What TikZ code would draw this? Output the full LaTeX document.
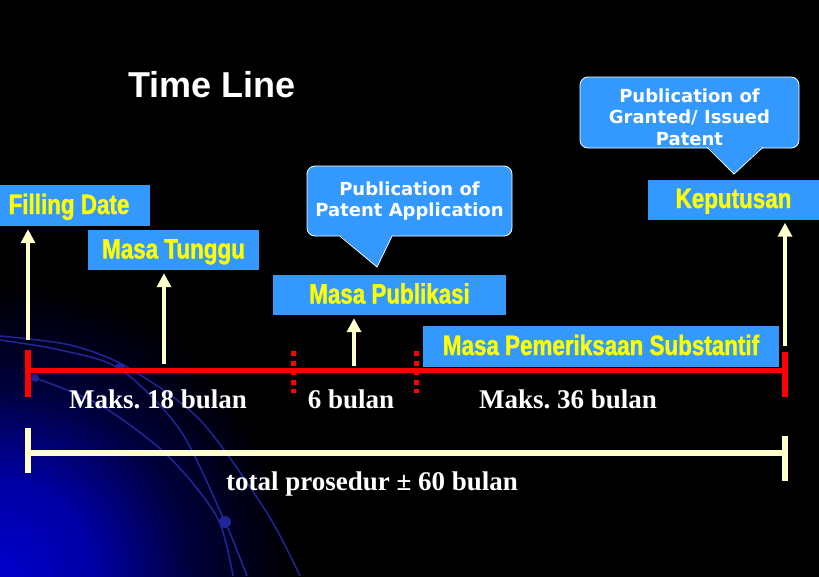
\documentclass[tikz,border=0pt]{standalone}
\usepackage{fontspec}
\setmainfont{Liberation Serif}
\newfontfamily\condfont[FakeStretch=0.8, BoldFeatures={FakeBold=1.2}]{Liberation Sans}
\newfontfamily\verdfont{DejaVu Sans}
\newfontfamily\arialfont{Liberation Sans}
\usetikzlibrary{arrows.meta}
\frenchspacing
\definecolor{boxblue}{RGB}{51,153,255}
\definecolor{txtyellow}{RGB}{255,255,0}
\definecolor{cream}{RGB}{255,255,204}
\definecolor{arcblue}{RGB}{32,38,150}
\definecolor{redline}{RGB}{255,0,0}
\pgfdeclareradialshading{cornerglow}{\pgfpointorigin}{%
  color(0bp)=(rgb,255:red,0;green,0;blue,205);
  color(5.5bp)=(rgb,255:red,0;green,0;blue,165);
  color(11bp)=(rgb,255:red,0;green,0;blue,60);
  color(17bp)=(rgb,255:red,0;green,0;blue,0);
  color(50bp)=(rgb,255:red,0;green,0;blue,0)}
\tikzset{
  bluebox/.style={fill=boxblue, inner sep=0pt, text=txtyellow,
    font=\condfont\bfseries\fontsize{28}{30}\selectfont,
    text height=21pt, text depth=4pt},
  callbox/.style={fill=boxblue, draw=white, line width=0.8pt, rounded corners=8pt,
    inner sep=0pt, text=white, align=center,
    font=\verdfont\bfseries\fontsize{18}{21.5}\selectfont},
  uparrow/.style={draw=cream, line width=4pt, -{Triangle[width=14pt,length=14pt]}, shorten >=3pt},
  redbar/.style={draw=redline, line width=5pt},
  redtick/.style={draw=redline, line width=6pt},
  reddots/.style={draw=redline, line width=5pt, dash pattern=on 5pt off 4.5pt},
  creambar/.style={draw=cream, line width=6pt},
  timelabel/.style={text=white, font=\bfseries\fontsize{27}{30}\selectfont, anchor=base, inner sep=0pt},
  glowarc/.style={draw=arcblue, line width=1.5pt},
  glowdot/.style={fill=arcblue},
}
\begin{document}
\begin{tikzpicture}[x=1pt,y=-1pt]
\useasboundingbox (0,0) rectangle (819,576);
\fill[black] (-6,-6) rectangle (825,582);
\begin{scope}
  \clip (-6,150) rectangle (400,582);
  \shade[shading=cornerglow] (0,576) circle (430);
\end{scope}
\begin{scope}
  \clip (0,0) rectangle (819,576);
  \draw[glowarc] plot[smooth] coordinates {(0,336) (70,345) (127,367) (200,420) (267,513) (300,576)};
  \draw[glowarc] plot[smooth] coordinates {(0,340) (60,350) (120,369) (180,430) (225,522) (247,576)};
  \draw[glowarc] plot[smooth] coordinates {(35,378) (100,405) (167,455) (217,517) (233,576)};
  \fill[glowdot] (120,368) circle (5);
  \fill[glowdot] (35,378) circle (4);
  \fill[glowdot] (225,522) circle (6);
\end{scope}

% title
\node[text=white, font=\arialfont\bfseries\fontsize{36}{40}\selectfont, anchor=base, inner sep=0pt] (title) at (212,97) {Time Line};

% callouts
\node[callbox, minimum width=205pt, minimum height=70pt] (pubapp) at (409.5,201) {Publication of\\Patent Application};
\fill[boxblue] (340,235) -- (377,267) -- (392,235) -- cycle;
\draw[white, line width=0.8pt] (340,236.2) -- (377,267) -- (392,236.2);

\node[callbox, minimum width=219pt, minimum height=71pt] (pubgrant) at (689.5,112.5) {};
\node[text=white, align=center, inner sep=0pt, font=\verdfont\bfseries\fontsize{18}{21.5}\selectfont] (pubgranttext) at (689.5,117) {Publication of\\Granted/ Issued\\Patent};
\fill[boxblue] (707,146) -- (734,174) -- (763,146) -- cycle;
\draw[white, line width=0.8pt] (707,147.2) -- (734,174) -- (763,147.2);

% blue boxes
\node[bluebox, minimum width=162pt, minimum height=41pt] (filling) at (69,205.5) {Filling Date};
\node[bluebox, minimum width=171pt, minimum height=40pt] (tunggu) at (173.5,250) {Masa Tunggu};
\node[bluebox, minimum width=233pt, minimum height=40pt] (publik) at (389.5,295) {Masa Publikasi};
\node[bluebox, minimum width=356pt, minimum height=41pt] (periksa) at (601,346.5) {Masa Pemeriksaan Substantif};
\node[bluebox, minimum width=171pt, minimum height=40pt] (keputusan) at (733.5,199.5) {Keputusan};

% arrow bases
\coordinate (b1) at (28,340);
\coordinate (b2) at (164,364);
\coordinate (b3) at (354,366);
\coordinate (b4) at (785,346);
\draw[uparrow] (b1) -- (filling.south -| b1);
\draw[uparrow] (b2) -- (tunggu.south -| b2);
\draw[uparrow] (b3) -- (publik.south -| b3);
\draw[uparrow] (b4) -- (keputusan.south -| b4);

% red time line
\coordinate (rl) at (28,370);
\coordinate (rr) at (785,370);
\draw[redbar] (rl) -- (rr);
\coordinate (rlt) at (28,350); \coordinate (rlb) at (28,397);
\coordinate (rrt) at (785,352); \coordinate (rrb) at (785,397);
\draw[redtick] (rlt) -- (rlb);
\draw[redtick] (rrt) -- (rrb);
\coordinate (d1t) at (293,351); \coordinate (d1b) at (293,393);
\coordinate (d2t) at (416,351); \coordinate (d2b) at (416,393);
\draw[reddots] (d1t) -- (d1b);
\draw[reddots] (d2t) -- (d2b);

% cream total line
\coordinate (cl) at (28,453);
\coordinate (cr) at (785,453);
\draw[creambar] (cl) -- (cr);
\coordinate (clt) at (28,428); \coordinate (clb) at (28,473);
\coordinate (crt) at (785,436); \coordinate (crb) at (785,481);
\draw[creambar] (clt) -- (clb);
\draw[creambar] (crt) -- (crb);

% labels
\node[timelabel] (l18) at (158,408) {Maks. 18 bulan};
\node[timelabel] (l6) at (351,408) {6 bulan};
\node[timelabel] (l36) at (568,408) {Maks. 36 bulan};
\node[timelabel] (ltot) at (372,490) {total prosedur ± 60 bulan};
\end{tikzpicture}
\end{document}
